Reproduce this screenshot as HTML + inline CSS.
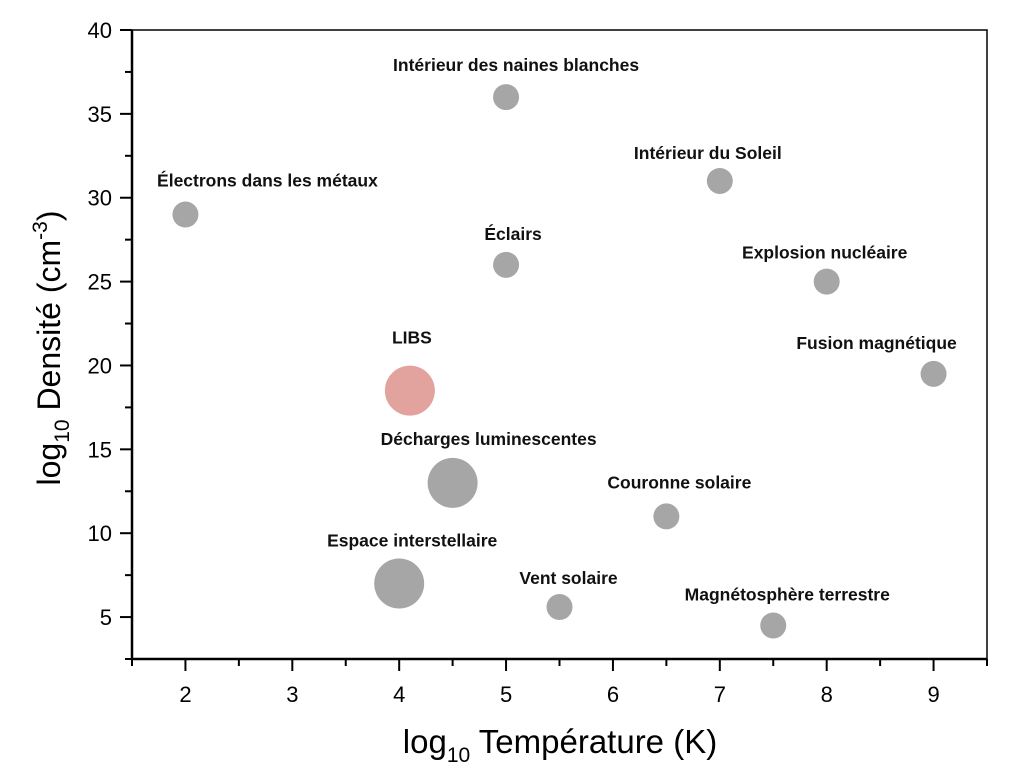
<!DOCTYPE html>
<html><head><meta charset="utf-8"><style>
body{margin:0;background:#fff;}
svg text{font-family:"Liberation Sans",Arial,sans-serif;}
</style></head><body>
<svg id="chart" width="1012" height="772" xmlns="http://www.w3.org/2000/svg">
<rect x="0" y="0" width="1012" height="772" fill="#fff"/>
<g id="marks"></g>
<g id="axes"></g>
</svg>
<script>
const labels=["Électrons dans les métaux","Intérieur des naines blanches","Intérieur du Soleil","Éclairs","Explosion nucléaire","Fusion magnétique","LIBS","Décharges  luminescentes","Couronne solaire","Espace interstellaire","Vent solaire","Magnétosphère terrestre"];
const temps=[2,5,7,5,8,9,4.1,4.5,6.5,4,5.5,7.5];
const dens=[29,36,31,26,25,19.5,18.5,13,11,7,5.6,4.5];
const radii=[13,13,13,13,13,13,25,25,13,25,13,13];
const labelDx=[82,10,-12,7,-2,-57,2,36,13,13,9,14];
const labelDy=[-28,-26,-22,-25,-23,-25,-47,-38,-28,-37,-23,-25];
const xTicks=[2,3,4,5,6,7,8,9];
const yTicks=[5,10,15,20,25,30,35,40];
const NS="http://www.w3.org/2000/svg";
const L=132,R=987,T=30,B=659;
const xMin=1.5,xMax=9.5,yMin=2.5,yMax=40;
const sx=v=>L+(v-xMin)/(xMax-xMin)*(R-L);
const sy=v=>B-(v-yMin)/(yMax-yMin)*(B-T);
function mk(tag,attrs,parent){const e=document.createElementNS(NS,tag);for(const k in attrs)e.setAttribute(k,attrs[k]);parent.appendChild(e);return e;}
const marks=document.getElementById('marks'),axes=document.getElementById('axes');
labels.forEach((lab,i)=>{
  const cx=sx(temps[i]),cy=sy(dens[i]),r=radii[i];
  const c=mk('circle',{cx:cx,cy:cy,r:r,fill:i===6?'#e2a29d':'#a6a6a6'},marks);
  
  
  const t=mk('text',{x:cx+labelDx[i],y:cy+labelDy[i],'text-anchor':'middle','font-size':'17.5','font-weight':'bold',fill:'#111','xml:space':'preserve'},marks);
  t.textContent=lab;
  
  
});
const box=mk('rect',{x:L,y:T,width:R-L,height:B-T,fill:'none',stroke:'#000','stroke-width':1.5},axes);


mk('line',{x1:L,y1:B,x2:R,y2:B,stroke:'#000','stroke-width':2.5},axes);
mk('line',{x1:L,y1:T,x2:L,y2:B,stroke:'#000','stroke-width':2.5},axes);
for(let v=1.5;v<=9.5;v+=0.5){
  const major=Number.isInteger(v);
  mk('line',{x1:sx(v),y1:B,x2:sx(v),y2:B+(major?12:7),stroke:'#000','stroke-width':2},axes);
}
xTicks.forEach(v=>{
  const t=mk('text',{x:sx(v),y:B+43,'text-anchor':'middle','font-size':'22',fill:'#000'},axes);
  t.textContent=v;
  
  
});
for(let v=2.5;v<=40;v+=2.5){
  const major=v%5===0;
  mk('line',{x1:L,y1:sy(v),x2:L-(major?12:7),y2:sy(v),stroke:'#000','stroke-width':2},axes);
}
yTicks.forEach(v=>{
  const t=mk('text',{x:L-20,y:sy(v)+8,'text-anchor':'end','font-size':'22',fill:'#000'},axes);
  t.textContent=v;
  
  
});
</script>
<svg width="1012" height="772" style="position:absolute;left:0;top:0" xmlns="http://www.w3.org/2000/svg">
<text x="560" y="753" text-anchor="middle" font-size="33" font-family="Liberation Sans, Arial, sans-serif">log<tspan font-size="21" dy="9">10</tspan><tspan dy="-9"> Température (K)</tspan></text>
<text transform="translate(60,348) rotate(-90)" text-anchor="middle" font-size="32" font-family="Liberation Sans, Arial, sans-serif">log<tspan font-size="21" dy="9">10</tspan><tspan dy="-9"> Densité (cm</tspan><tspan font-size="21" dy="-13">-3</tspan><tspan dy="13">)</tspan></text>
</svg>
</body></html>
